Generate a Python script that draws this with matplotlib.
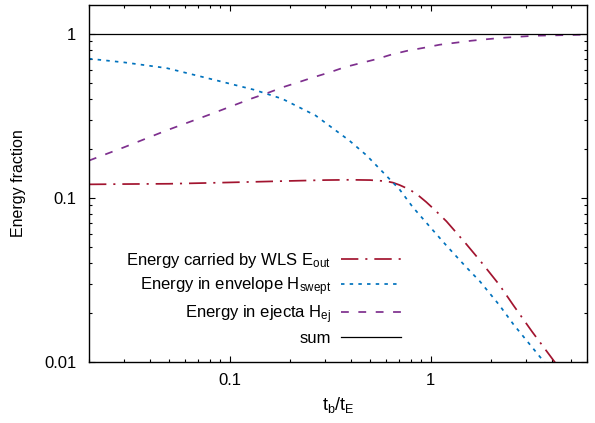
import matplotlib
matplotlib.use("Agg")
import matplotlib.pyplot as plt
from matplotlib.ticker import LogLocator, FixedLocator, NullFormatter

plt.rcParams['font.family'] = ['Liberation Sans', 'DejaVu Sans']
plt.rcParams['mathtext.default'] = 'regular'

# ---- data ----
x_eout = [0.02, 0.03, 0.05, 0.08, 0.12, 0.2, 0.3, 0.4, 0.5, 0.6, 0.65, 0.7, 0.75,
          0.8, 0.87, 0.95, 1.05, 1.2, 1.5, 1.76, 2.2, 2.58, 3.2, 4.17, 5.0, 6.0]
y_eout = [0.121, 0.1215, 0.122, 0.1235, 0.125, 0.127, 0.1285, 0.129, 0.1285, 0.1265,
          0.124, 0.12, 0.1155, 0.111, 0.1035, 0.0946, 0.0845, 0.072, 0.0526, 0.0416,
          0.0295, 0.0222, 0.0153, 0.0099, 0.0073, 0.0053]

x_swept = [0.02, 0.03, 0.0486, 0.0865, 0.132, 0.183, 0.268, 0.394, 0.48, 0.578, 0.646,
           0.7, 0.815, 1.0, 1.2, 1.5, 1.76, 2.2, 2.58, 3.1, 3.65, 4.5, 6.0]
y_swept = [0.706, 0.67, 0.619, 0.52, 0.457, 0.402, 0.318, 0.224, 0.182, 0.144, 0.125,
           0.113, 0.088, 0.066, 0.0512, 0.038, 0.031, 0.0222, 0.017, 0.0129, 0.0101,
           0.0073, 0.0047]

x_ej = [0.02, 0.03, 0.0486, 0.08, 0.129, 0.156, 0.185, 0.221, 0.263, 0.314, 0.376, 0.45,
        0.539, 0.643, 0.77, 0.933, 1.11, 1.34, 1.6, 1.94, 2.33, 2.79, 3.34, 4.01, 4.84, 6.0]
y_ej = [0.169, 0.204, 0.258, 0.323, 0.404, 0.438, 0.474, 0.508, 0.545, 0.582, 0.628, 0.664,
        0.702, 0.75, 0.79, 0.824, 0.859, 0.884, 0.909, 0.93, 0.948, 0.962, 0.975, 0.979,
        0.984, 0.99]

x_sum = [0.02, 6.0]
y_sum = [1.0, 1.0]

labels = ['Energy carried by WLS E$_{out}$', 'Energy in envelope H$_{swept}$',
          'Energy in ejecta H$_{ej}$', 'sum']
x_ticks = [0.1, 1]
x_ticklabels = ['0.1', '1']
y_ticks = [0.01, 0.1, 1]
y_ticklabels = ['0.01', '0.1', '1']

# ---- figure ----
fig = plt.figure(figsize=(5.95, 4.23), dpi=100)
ax = fig.add_axes([89/595, 1 - 362/423, (587 - 89)/595, (362 - 5)/423])

lw = 1.25
ax.plot(x_eout, y_eout, color='#A2142F', lw=lw, ls=(0, (10, 4, 1.2, 4)), label=labels[0])
ax.plot(x_swept, y_swept, color='#0072BD', lw=lw, ls=(0, (2, 3)), label=labels[1])
ax.plot(x_ej, y_ej, color='#7E2F8E', lw=lw, ls=(0, (4.5, 5.5)), label=labels[2])
ax.plot(x_sum, y_sum, color='black', lw=0.9, ls='-', label=labels[3])

ax.set_xscale('log')
ax.set_yscale('log')
ax.set_xlim(0.02, 6.0)
ax.set_ylim(0.01, 1.5)

ax.xaxis.set_major_locator(FixedLocator(x_ticks))
ax.set_xticklabels(x_ticklabels)
ax.yaxis.set_major_locator(FixedLocator(y_ticks))
ax.set_yticklabels(y_ticklabels)
ax.xaxis.set_minor_locator(LogLocator(base=10, subs=range(2, 10)))
ax.yaxis.set_minor_locator(LogLocator(base=10, subs=range(2, 10)))
ax.xaxis.set_minor_formatter(NullFormatter())
ax.yaxis.set_minor_formatter(NullFormatter())

ax.tick_params(which='both', direction='in', top=True, right=True, width=0.8,
               labelsize=12, colors='black')
ax.tick_params(which='major', length=4)
ax.tick_params(which='minor', length=2.2)
ax.tick_params(axis='y', which='major', pad=9)
ax.tick_params(axis='x', which='major', pad=8)
for s in ax.spines.values():
    s.set_linewidth(1.0)

ax.set_xlabel('t$_b$/t$_E$', fontsize=13, labelpad=5)
ax.set_ylabel('Energy fraction', fontsize=11.5, labelpad=13)

leg = ax.legend(loc='lower right', bbox_to_anchor=(0.627, 0.045), frameon=False,
                markerfirst=False, fontsize=12, handlelength=3.6, handletextpad=0.6,
                labelspacing=0.32, borderpad=0, borderaxespad=0)

fig.savefig('out.png', dpi=100)
